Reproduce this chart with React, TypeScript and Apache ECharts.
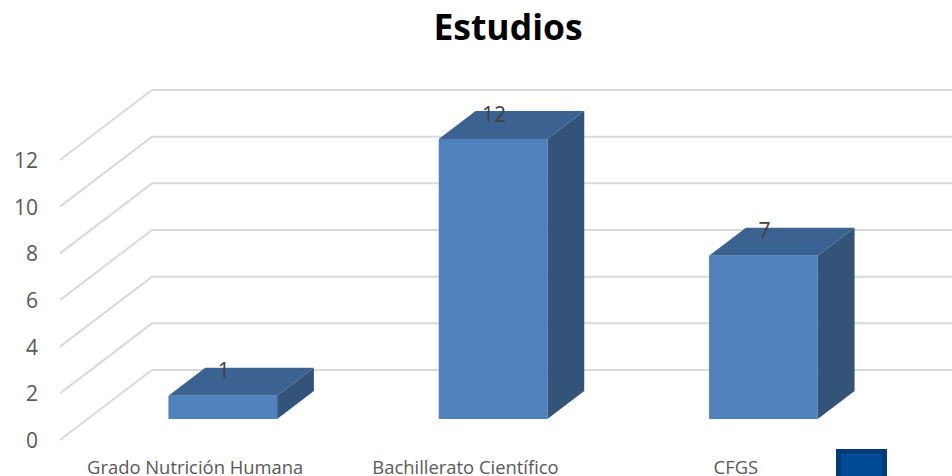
import React, { useEffect, useRef } from "react";
import * as echarts from "echarts";

const titleText = "Estudios";
const categories = ["Grado Nutrición Humana", "Bachillerato Científico", "CFGS"];
const values = [1, 12, 7];
const yTicks = [0, 2, 4, 6, 8, 10, 12];

const DEPTH_X = 92;
const DEPTH_Y = -70;
const BAR_NEAR = 0.3;
const BAR_FAR = 0.7;
const BAR_BAND = 0.402;
const FONT = '"Open Sans", sans-serif';

function renderWall(params: any, api: any) {
  const v = api.value(1);
  const [, y] = api.coord([0, v]);
  const cs = params.coordSys;
  return {
    type: "polyline",
    shape: {
      points: [
        [cs.x, y],
        [cs.x + DEPTH_X, y + DEPTH_Y],
        [cs.x + cs.width + DEPTH_X, y + DEPTH_Y],
      ],
    },
    style: { stroke: "#d9d9d9", lineWidth: 2, fill: "none" },
  };
}

function renderBar(_params: any, api: any) {
  const cat = api.value(0);
  const val = api.value(1);
  const [cx, y0] = api.coord([cat, 0]);
  const [, yV] = api.coord([cat, val]);
  const band = api.size([1, 0])[0];
  const w = band * BAR_BAND;
  const nx = DEPTH_X * BAR_NEAR;
  const ny = DEPTH_Y * BAR_NEAR;
  const dx = DEPTH_X * (BAR_FAR - BAR_NEAR);
  const dy = DEPTH_Y * (BAR_FAR - BAR_NEAR);
  const l = cx + nx - w / 2;
  const r = cx + nx + w / 2;
  const b = y0 + ny;
  const t = yV + ny;
  return {
    type: "group",
    children: [
      {
        type: "polygon",
        shape: { points: [[r, b], [r + dx, b + dy], [r + dx, t + dy], [r, t]] },
        style: { fill: "#335379" },
      },
      {
        type: "polygon",
        shape: { points: [[l, t], [r, t], [r + dx, t + dy], [l + dx, t + dy]] },
        style: { fill: "#3c6291" },
      },
      {
        type: "rect",
        shape: { x: l, y: t, width: r - l, height: b - t },
        style: { fill: "#4f81bd" },
      },
      {
        type: "text",
        x: (l + r) / 2 + 1,
        y: t - 25.5,
        style: {
          text: String(val),
          fill: "#404040",
          font: `21px ${FONT}`,
          textAlign: "center",
          textVerticalAlign: "middle",
        },
      },
    ],
  };
}

export default function App() {
  const ref = useRef<HTMLDivElement>(null);
  useEffect(() => {
    document.body.style.margin = "0";
    const chart = echarts.init(ref.current!, undefined, { renderer: "svg" });
    chart.setOption({
      animation: false,
      backgroundColor: "#ffffff",
      title: {
        text: titleText,
        left: 503,
        top: 3,
        textAlign: "center",
        textStyle: { fontFamily: FONT, fontSize: 35.5, fontWeight: "bold", color: "#000000" },
      },
      grid: { left: 60, top: 160, width: 811, height: 280 },
      xAxis: {
        type: "category",
        data: categories,
        axisLine: { show: false },
        axisTick: { show: false },
        splitLine: { show: false },
        axisLabel: { color: "#595959", fontFamily: FONT, fontSize: 18.4, lineHeight: 18, margin: 17, interval: 0 },
      },
      yAxis: {
        type: "value",
        min: 0,
        max: 12,
        interval: 2,
        axisLine: { show: false },
        axisTick: { show: false },
        splitLine: { show: false },
        axisLabel: { color: "#595959", fontFamily: FONT, fontSize: 21, margin: 22, padding: [2, 0, 0, 0] },
      },
      graphic: [
        {
          type: "rect",
          shape: { x: 838.5, y: 451.5, width: 46, height: 40 },
          style: { fill: "#004a96", stroke: "#003a78", lineWidth: 5 },
          z: 10,
        },
      ],
      series: [
        {
          type: "custom",
          coordinateSystem: "cartesian2d",
          renderItem: renderWall,
          clip: false,
          silent: true,
          z: 1,
          data: yTicks.map((v) => [0, v]),
        },
        {
          type: "custom",
          coordinateSystem: "cartesian2d",
          renderItem: renderBar,
          clip: false,
          z: 2,
          data: values.map((v, i) => [i, v]),
        },
      ],
    });
    return () => chart.dispose();
  }, []);
  return <div ref={ref} style={{ position: "fixed", left: 0, top: 0, width: 952, height: 476 }} />;
}
